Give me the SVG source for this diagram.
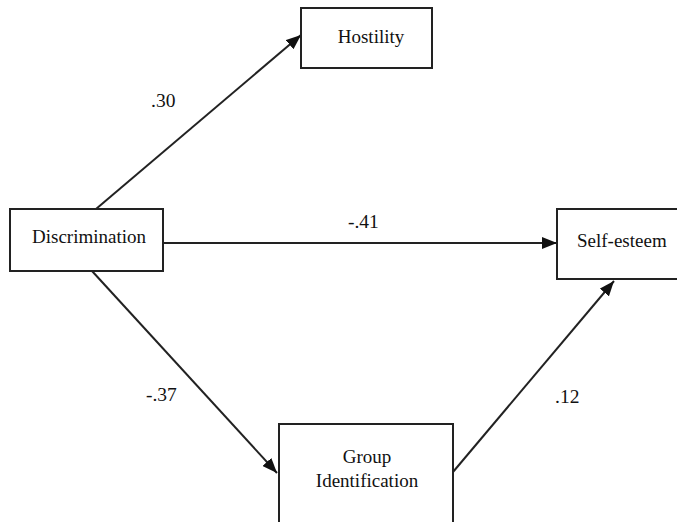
<svg xmlns="http://www.w3.org/2000/svg" width="677" height="522" viewBox="0 0 677 522">
<style>
.box{fill:#fff;stroke:#222;stroke-width:2}
text{font-family:"Liberation Serif","DejaVu Serif","Noto Serif",Times,serif;fill:#111}
.t{font-size:19px;text-anchor:middle}
.s{text-anchor:start}
.lbl{font-size:19.5px}
.c{stroke:#222;stroke-width:2;fill:none;marker-end:url(#ah)}
</style>
<defs>
<marker id="ah" markerUnits="userSpaceOnUse" markerWidth="16" markerHeight="12" refX="15" refY="6" orient="auto">
<path d="M0,0 L15,6 L0,12 Z" fill="#111"/>
</marker>
</defs>
<rect width="677" height="522" fill="#fff"/>
<g id="connectors">
<line class="c" x1="96" y1="209" x2="301" y2="35"/>
<line class="c" x1="163" y1="243" x2="557" y2="243"/>
<line class="c" x1="92" y1="271" x2="277" y2="473"/>
<line class="c" x1="453" y1="472" x2="614" y2="281"/>
</g>
<g id="labels">
<text class="lbl" x="151" y="107">.30</text>
<text class="lbl" x="348" y="228">-.41</text>
<text class="lbl" x="146" y="401">-.37</text>
<text class="lbl" x="555" y="403">.12</text>
</g>
<g id="hostility">
<rect class="box" x="301" y="8" width="131" height="60"/>
<text class="t" x="371" y="43">Hostility</text>
</g>
<g id="discrimination">
<rect class="box" x="10" y="209" width="153" height="62"/>
<text class="t" x="89" y="243">Discrimination</text>
</g>
<g id="self-esteem">
<rect class="box" x="557" y="209" width="130" height="70"/>
<text class="t s" x="577" y="247">Self-esteem</text>
</g>
<g id="group-identification">
<rect class="box" x="279" y="424" width="174" height="110"/>
<text class="t" x="367" y="463">Group</text>
<text class="t" x="367" y="487">Identification</text>
</g>
</svg>
